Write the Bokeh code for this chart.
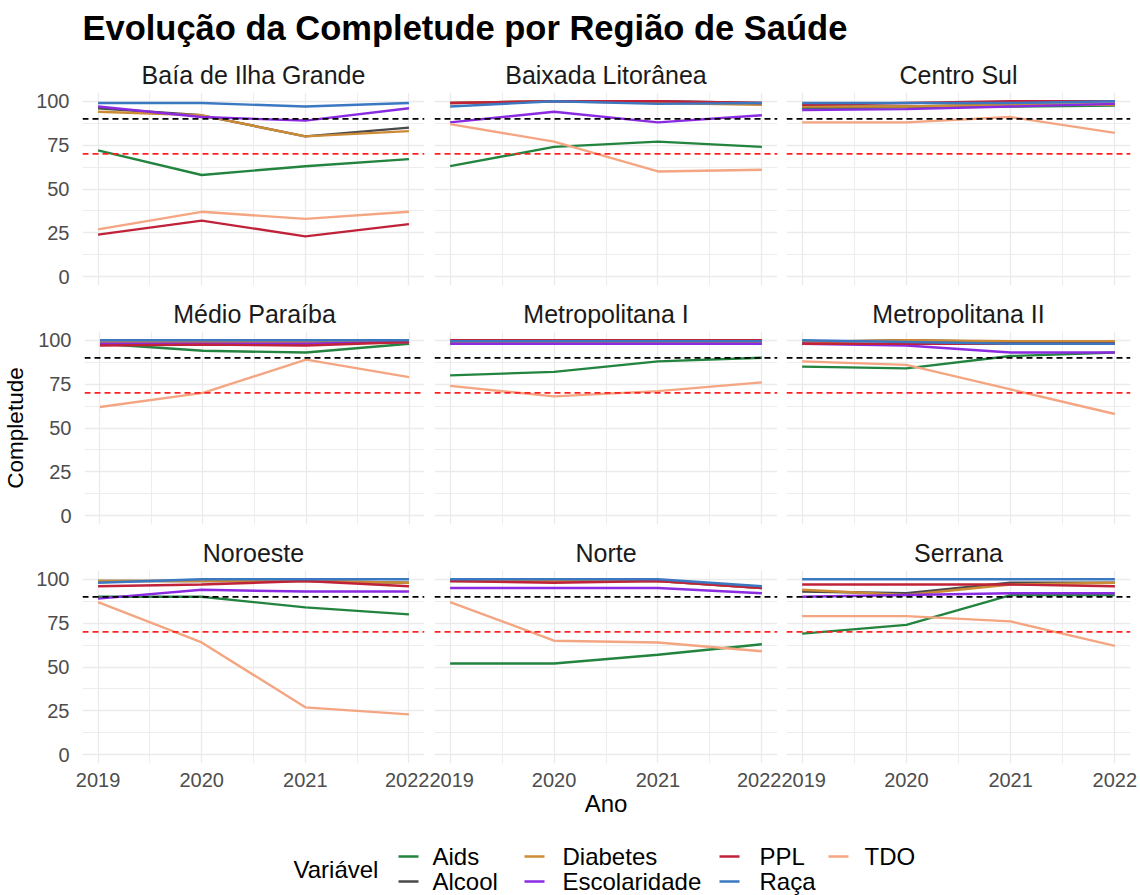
from bokeh.plotting import figure
from bokeh.layouts import column, row
from bokeh.models import Range1d, FixedTicker, Span
from bokeh.embed import file_html
from bokeh.resources import INLINE
from bokeh.core.properties import value

# ---------------- data ----------------
years = [2019, 2020, 2021, 2022]
regions = ["Baía de Ilha Grande", "Baixada Litorânea", "Centro Sul",
           "Médio Paraíba", "Metropolitana I", "Metropolitana II",
           "Noroeste", "Norte", "Serrana"]
variables = ["Aids", "Alcool", "Diabetes", "Escolaridade", "PPL", "Raça", "TDO"]
var_colors = ["#23843f", "#4a4a4a", "#cc8b35", "#8a2be2", "#c0223a", "#3a78c2", "#f4a582"]

# one list per variable, 9 regions x 4 years (same order as `regions`)
aids = [[72, 58, 63, 67], [63, 74, 77, 74], [96, 96.5, 97, 97.5],
        [98, 94, 93, 98], [80, 82, 88, 90], [85, 84, 91, 93],
        [90, 90, 84, 80], [52, 52, 57, 63], [69, 74, 91, 91]]
alcool = [[96, 92, 80, 85], [99, 100, 100, 99], [97, 97, 98, 98],
          [99, 99, 99, 99], [99, 99, 99, 99], [99, 100, 99, 99],
          [99, 99, 99, 98], [99, 99, 99, 95], [93, 92, 98, 98]]
diabetes = [[94, 92, 80, 83], [99, 100, 99, 98], [97, 97, 98, 98],
            [99, 99, 99, 99], [99, 99, 99, 99], [99, 100, 99.5, 99.5],
            [99, 99, 99, 98], [99, 99, 99, 95], [94, 91, 97, 98]]
escolaridade = [[97, 91, 89, 96], [88, 94, 88, 92], [95, 95.5, 97, 98.5],
                [98, 98, 98, 99], [98, 98, 98, 98], [98, 97, 93, 93],
                [89, 94, 93, 93], [95, 95, 95, 92], [90, 91, 92, 92]]
ppl = [[24, 32, 23, 30], [99, 100, 100, 99], [98, 99, 100, 100],
       [97, 97.5, 97, 99], [100, 100, 100, 100], [98, 98, 98, 98],
       [96, 97, 99, 96], [99, 98, 99, 95], [97, 97, 97, 96]]
raca = [[99, 99, 97, 99], [97, 100, 98.5, 99], [99, 99, 99, 100],
        [100, 100, 100, 100], [99.5, 99.5, 99.5, 99.5], [100, 99, 98, 98],
        [98, 100, 100, 100], [100, 100, 100, 96], [100, 100, 100, 100]]
tdo = [[27, 37, 33, 37], [87, 77, 60, 61], [88, 88, 91, 82],
       [62, 70, 89, 79], [74, 68, 71, 76], [88, 86, 72, 58],
       [87, 64, 27, 23], [87, 65, 64, 59], [79, 79, 76, 62]]
series = [aids, alcool, diabetes, escolaridade, ppl, raca, tdo]

y_ticks = [0, 25, 50, 75, 100]
y_minor = [12.5, 37.5, 62.5, 87.5]
x_minor = [2019.5, 2020.5, 2021.5]
ref_black = 90
ref_red = 70

FONT = "Liberation Sans"
TOTAL_W = 1140
HEADER_H = 51
FOOTER_H = 72

# ---------------- panels ----------------
def make_panel(i):
    r, c = divmod(i, 3)
    left = [82, 5, 5][c]
    right = [5, 4, 10][c]
    fw = [342, 343, 344][c]
    top = 41
    fh = 193
    bottom = 5 if r < 2 else 60
    p = figure(width=left + fw + right, height=top + fh + bottom,
               x_range=Range1d(2018.85, 2022.15), y_range=Range1d(-5, 105),
               output_backend="svg", toolbar_location=None,
               min_border_left=left, min_border_right=right,
               min_border_top=top, min_border_bottom=bottom,
               title=regions[i])
    p.outline_line_color = None
    p.background_fill_color = "white"
    p.border_fill_color = "white"
    p.title.align = "center"
    p.title.text_font = FONT
    p.title.text_font_size = "25px"
    p.title.text_font_style = "normal"
    p.title.text_color = "#1a1a1a"
    p.title.standoff = 8

    xt = FixedTicker(ticks=years, minor_ticks=x_minor)
    yt = FixedTicker(ticks=y_ticks, minor_ticks=y_minor)
    p.xaxis.ticker = xt
    p.yaxis.ticker = yt
    p.xgrid.ticker = xt
    p.ygrid.ticker = yt
    for g in (p.xgrid, p.ygrid):
        g.grid_line_color = "#ebebeb"
        g.grid_line_width = 1.3
        g.minor_grid_line_color = "#ebebeb"
        g.minor_grid_line_width = 0.9

    for ax in (p.xaxis, p.yaxis):
        ax.axis_line_color = None
        ax.major_tick_line_color = None
        ax.minor_tick_line_color = None
        ax.major_tick_out = 0
        ax.major_label_text_font = FONT
        ax.major_label_text_font_size = "20px"
        ax.major_label_text_color = "#4d4d4d"
        ax.axis_label_text_font = FONT
        ax.axis_label_text_font_style = "normal"
        ax.axis_label_text_color = "black"
    p.xaxis.major_label_standoff = 5
    p.yaxis.major_label_standoff = 9
    if c != 0:
        p.yaxis.visible = False
    if r < 2:
        p.xaxis.visible = False
    if r == 1 and c == 0:
        p.yaxis.axis_label = "Completude"
        p.yaxis.axis_label_text_font_size = "22.5px"
        p.yaxis.axis_label_standoff = 7
    if r == 2 and c == 1:
        p.xaxis.axis_label = "Ano"
        p.xaxis.axis_label_text_font_size = "24px"
        p.xaxis.axis_label_standoff = 0

    for v, vals in enumerate(series):
        p.line(years, vals[i], line_color=var_colors[v], line_width=2.4)

    p.add_layout(Span(location=ref_black, dimension="width", line_color="black",
                      line_dash="6 4", line_width=1.7))
    p.add_layout(Span(location=ref_red, dimension="width", line_color="#ff2020",
                      line_dash="6 4", line_width=1.7))
    return p

panels = [make_panel(i) for i in range(9)]
grid_rows = [row(panels[3 * k:3 * k + 3], spacing=0) for k in range(3)]
grid = column(grid_rows, spacing=0)

def blank(w, h):
    f = figure(width=w, height=h, x_range=Range1d(0, w), y_range=Range1d(h, 0),
               output_backend="svg", toolbar_location=None,
               min_border=0, min_border_left=0, min_border_right=0,
               min_border_top=0, min_border_bottom=0)
    f.axis.visible = False
    f.grid.visible = False
    f.outline_line_color = None
    return f

# ---------------- header ----------------
header = blank(TOTAL_W, HEADER_H)
header.text(x=[82], y=[27], text=["Evolução da Completude por Região de Saúde"],
            text_font=value(FONT), text_font_size="34.5px", text_font_style="bold",
            text_color="black", text_align="left", text_baseline="middle")

# ---------------- footer: legend ----------------
footer = blank(TOTAL_W, FOOTER_H)
footer.text(x=[293], y=[46], text=["Variável"], text_font=value(FONT),
            text_font_size="24px", text_color="black",
            text_align="left", text_baseline="middle")
key_x = [398, 524, 719, 828]
text_x = [432, 562, 759, 864]
row_y = [33, 58]
for k, name in enumerate(variables):
    col_i, row_i = divmod(k, 2)
    kx = key_x[col_i]
    ky = row_y[row_i]
    footer.segment(x0=[kx], y0=[ky], x1=[kx + 20], y1=[ky],
                   line_color=var_colors[k], line_width=2.5)
    footer.text(x=[text_x[col_i]], y=[ky], text=[name], text_font=value(FONT),
                text_font_size="24px", text_color="black",
                text_align="left", text_baseline="middle")

layout = column(header, grid, footer, spacing=0)

open("out.html", "w").write(file_html(layout, INLINE))
